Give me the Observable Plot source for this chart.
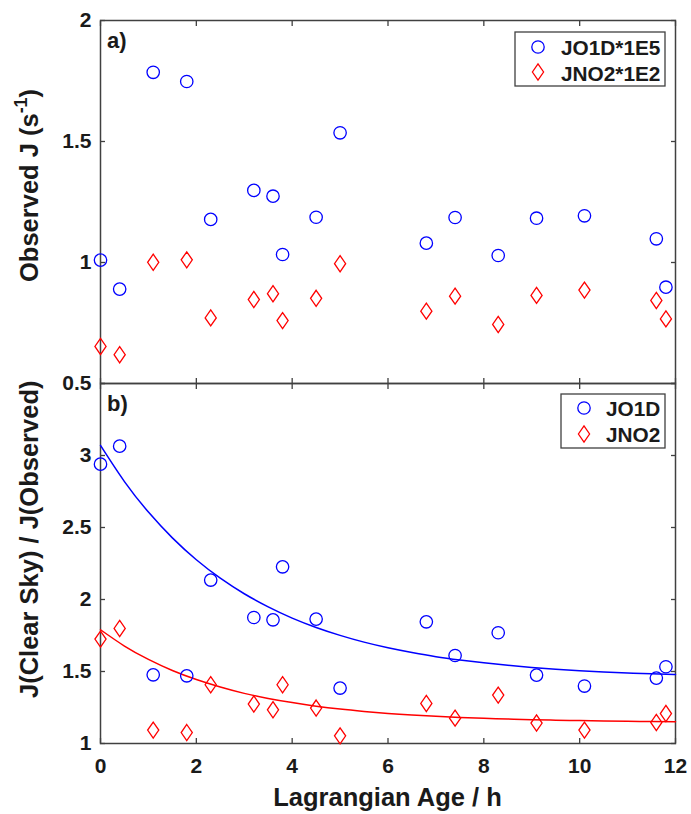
<!DOCTYPE html>
<html><head><meta charset="utf-8">
<script src="https://cdn.jsdelivr.net/npm/d3@7"></script>
<script src="https://cdn.jsdelivr.net/npm/@observablehq/plot@0.6"></script>
<style>
html,body{margin:0;padding:0;background:#fff;}
#chart{position:relative;width:691px;height:814px;font-family:"Liberation Sans",Arial,sans-serif;}
#chart svg{position:absolute;left:0;top:0;background:transparent !important;overflow:visible;}
</style></head><body><div id="chart"></div>
<script>
// ---- data ----
const age = [0, 0.4, 1.1, 1.8, 2.3, 3.2, 3.6, 3.8, 4.5, 5.0, 6.8, 7.4, 8.3, 9.1, 10.1, 11.6, 11.8];
const jo1dObs = [1.01, 0.89, 1.786, 1.748, 1.178, 1.298, 1.274, 1.033, 1.187, 1.536, 1.080, 1.186, 1.029, 1.183, 1.193, 1.098, 0.898];
const jno2Obs = [0.653, 0.619, 1.001, 1.011, 0.771, 0.847, 0.871, 0.760, 0.852, 0.995, 0.799, 0.861, 0.744, 0.864, 0.886, 0.843, 0.767];
const jo1dRatio = [2.94, 3.065, 1.477, 1.470, 2.135, 1.875, 1.859, 2.227, 1.864, 1.385, 1.845, 1.611, 1.769, 1.475, 1.399, 1.454, 1.533];
const jno2Ratio = [1.725, 1.799, 1.093, 1.076, 1.408, 1.274, 1.234, 1.408, 1.246, 1.053, 1.278, 1.176, 1.336, 1.142, 1.093, 1.146, 1.208];
const fitAge = [0, 0.5, 1, 1.5, 2, 2.5, 3, 3.5, 4, 4.5, 5, 5.5, 6, 6.5, 7, 7.5, 8, 8.5, 9, 9.5, 10, 10.5, 11, 11.5, 12];
const jo1dFit = [3.07, 2.819, 2.607, 2.428, 2.276, 2.148, 2.040, 1.949, 1.871, 1.806, 1.751, 1.704, 1.665, 1.632, 1.603, 1.580, 1.560, 1.543, 1.528, 1.516, 1.506, 1.497, 1.490, 1.484, 1.479];
const jno2Fit = [1.790, 1.677, 1.584, 1.507, 1.444, 1.392, 1.348, 1.313, 1.284, 1.259, 1.239, 1.223, 1.209, 1.198, 1.189, 1.181, 1.175, 1.170, 1.165, 1.162, 1.159, 1.156, 1.154, 1.153, 1.151];
const xTicks = [0, 2, 4, 6, 8, 10, 12];
const topYTicks = [0.5, 1, 1.5, 2];
const botYTicks = [1, 1.5, 2, 2.5, 3, 3.5];
const botYLabels = [1, 1.5, 2, 2.5, 3];
const topLegend = ["JO1D*1E5", "JNO2*1E2"];
const botLegend = ["JO1D", "JNO2"];

const obs = age.map((a, i) => ({age: a, jo1d: jo1dObs[i], jno2: jno2Obs[i], r1: jo1dRatio[i], r2: jno2Ratio[i]}));
const fit = fitAge.map((a, i) => ({age: a, jo1d: jo1dFit[i], jno2: jno2Fit[i]}));

const FONT = '"Liberation Sans", Arial, sans-serif';
const AX = "#404040";
const TXT = "#1a1a1a";
const BLUE = "#0000ff", RED = "#ff0000";
const W = 691, ML = 100, MR = 16;
const diamond = {draw(ctx, size) {
  const s = Math.sqrt(size / Math.PI);
  ctx.moveTo(0, -1.3 * s); ctx.lineTo(0.9 * s, 0); ctx.lineTo(0, 1.3 * s); ctx.lineTo(-0.9 * s, 0); ctx.closePath();
}};
const R = 6.2;
const TITLE = 25.5;

function axesMarks(yTicks, yLabels, showX) {
  const m = [
    Plot.axisY({ticks: yLabels, tickSize: 0, tickPadding: 9, label: null, tickFormat: d => String(d), fontSize: 21, fill: TXT}),
    Plot.axisY({ticks: yTicks, anchor: "left", tickSize: -5, text: null, label: null, stroke: AX, strokeWidth: 1.3}),
    Plot.axisY({ticks: yTicks, anchor: "right", tickSize: -5, text: null, label: null, stroke: AX, strokeWidth: 1.3}),
    Plot.axisX({ticks: xTicks, anchor: "bottom", tickSize: -5, text: null, label: null, stroke: AX, strokeWidth: 1.3}),
    Plot.axisX({ticks: xTicks, anchor: "top", tickSize: -5, text: null, label: null, stroke: AX, strokeWidth: 1.3}),
    Plot.frame({stroke: AX, strokeWidth: 1.5})
  ];
  if (showX) m.push(Plot.axisX({ticks: xTicks, anchor: "bottom", tickSize: 0, tickPadding: 15, label: null, tickFormat: d => String(d), fontSize: 21, fill: TXT}));
  return m;
}

const topPlot = Plot.plot({
  width: W, height: 400, marginLeft: ML, marginRight: MR, marginTop: 20, marginBottom: 17,
  style: {fontFamily: FONT, fontWeight: "bold", background: "transparent", overflow: "visible"},
  x: {domain: [0, 12]}, y: {domain: [0.5, 2]},
  marks: [
    ...axesMarks(topYTicks, topYTicks, false),
    Plot.dot(obs, {x: "age", y: "jo1d", r: R, stroke: BLUE, strokeWidth: 1.3, fill: "none"}),
    Plot.dot(obs, {x: "age", y: "jno2", r: R, symbol: diamond, stroke: RED, strokeWidth: 1.3, fill: "none"})
  ]
});

const botPlot = Plot.plot({
  width: W, height: 814, marginLeft: ML, marginRight: MR, marginTop: 383, marginBottom: 71,
  style: {fontFamily: FONT, fontWeight: "bold", background: "transparent", overflow: "visible"},
  x: {domain: [0, 12]}, y: {domain: [1, 3.5]},
  marks: [
    ...axesMarks(botYTicks, botYLabels, true),
    Plot.line(fit, {x: "age", y: "jo1d", stroke: BLUE, strokeWidth: 1.5, curve: "natural"}),
    Plot.line(fit, {x: "age", y: "jno2", stroke: RED, strokeWidth: 1.5, curve: "natural"}),
    Plot.dot(obs, {x: "age", y: "r1", r: R, stroke: BLUE, strokeWidth: 1.3, fill: "none"}),
    Plot.dot(obs, {x: "age", y: "r2", r: R, symbol: diamond, stroke: RED, strokeWidth: 1.3, fill: "none"})
  ]
});

const chart = document.getElementById("chart");
chart.appendChild(botPlot);
chart.appendChild(topPlot);

function addText(svg, x, y, txt, size, anchor, rotate) {
  const t = d3.select(svg).append("text")
    .attr("transform", `translate(${x},${y})` + (rotate ? " rotate(-90)" : ""))
    .attr("text-anchor", anchor || "start")
    .attr("font-family", FONT).attr("font-weight", "bold").attr("font-size", size)
    .attr("fill", TXT);
  if (Array.isArray(txt)) {
    txt.forEach(p => {
      const ts = t.append("tspan").text(p.t);
      if (p.sup) ts.attr("font-size", size * 0.7).attr("dy", -size * 0.42);
      if (p.down) ts.attr("dy", size * 0.42);
    });
  } else t.text(txt);
  return t;
}

function addLegend(svg, box, rows) {
  const g = d3.select(svg).append("g");
  g.append("rect").attr("x", box.x).attr("y", box.y).attr("width", box.w).attr("height", box.h)
    .attr("fill", "#fff").attr("stroke", AX).attr("stroke-width", 1.3);
  rows.forEach(r => {
    const sym = r.diamond ? d3.symbol(diamond, Math.PI * R * R)() : d3.symbol(d3.symbolCircle, Math.PI * R * R)();
    g.append("path").attr("d", sym).attr("transform", `translate(${r.mx},${r.my})`)
      .attr("fill", "none").attr("stroke", r.color).attr("stroke-width", 1.3);
    g.append("text").attr("x", r.tx).attr("y", r.ty).attr("text-anchor", "start").text(r.label)
      .attr("font-family", FONT).attr("font-weight", "bold").attr("font-size", 20.8).attr("fill", TXT);
  });
}

// top panel annotations
addText(topPlot, 107, 48, "a)", 22);
addText(topPlot, 38, 282, [{t: "Observed J (s"}, {t: "-1", sup: true}, {t: ")", down: true}], TITLE, "start", true);
addLegend(topPlot, {x: 515, y: 32, w: 150, h: 54}, [
  {mx: 538, my: 47, color: BLUE, tx: 561, ty: 55, label: topLegend[0]},
  {mx: 538, my: 72, color: RED, diamond: true, tx: 561, ty: 81, label: topLegend[1]}
]);

// bottom panel annotations
addText(botPlot, 107, 411, "b)", 22);
addText(botPlot, 38, 698, "J(Clear Sky) / J(Observed)", TITLE, "start", true);
addText(botPlot, 387.5, 806, "Lagrangian Age / h", TITLE, "middle");
addLegend(botPlot, {x: 561, y: 394, w: 104, h: 54}, [
  {mx: 584, my: 408, color: BLUE, tx: 606, ty: 416, label: botLegend[0]},
  {mx: 584, my: 434, color: RED, diamond: true, tx: 606, ty: 442, label: botLegend[1]}
]);
</script></body></html>
